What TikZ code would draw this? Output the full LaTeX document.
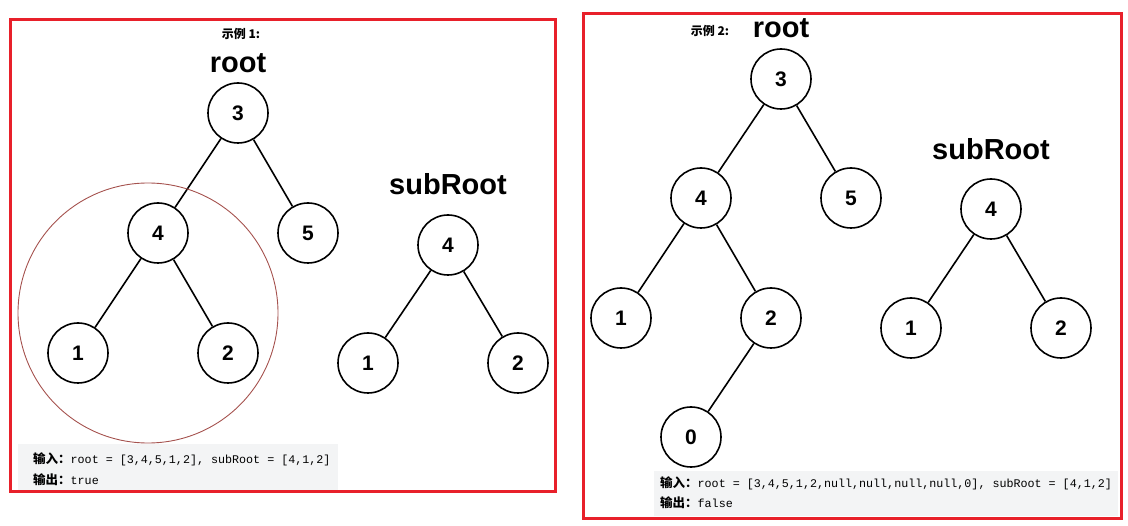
\documentclass[tikz,border=0pt]{standalone}
\usepackage{fontspec}
\setmainfont{Liberation Sans}
\setmonofont{Liberation Mono}
\newfontfamily\cjk{Noto Sans CJK SC}
\definecolor{framered}{HTML}{E8202A}
\definecolor{ringbrown}{HTML}{A5524E}
\definecolor{codegray}{HTML}{F3F4F5}
\tikzset{
  treenode/.style={circle, draw, line width=1.6pt, minimum size=60pt, inner sep=0pt,
    font=\bfseries\fontsize{21}{21}\selectfont},
  treeedge/.style={line width=1.6pt},
  treetitle/.style={font=\bfseries\fontsize{29}{29}\selectfont},
  casetitle/.style={font=\cjk\bfseries\fontsize{12}{12}\selectfont},
  codeline/.style={anchor=west, inner sep=0pt, font=\ttfamily\fontsize{11.7}{12}\selectfont},
  frame/.style={draw=framered, line width=3pt}
}
\newcommand{\cjkbold}[1]{{\cjk\bfseries\fontsize{12.5}{12.5}\selectfont #1}}
\begin{document}
\begin{tikzpicture}[x=1pt,y=-1pt]
  \useasboundingbox (0,0) rectangle (1128,526);
  % example 1
  \fill[codegray] (18,444) rectangle (338,490);
  \draw[frame] (10,20) rectangle (555,492);
  \node[casetitle] (case1) at (241,34) {示例 1:};
  \node[treetitle] (root1) at (238,63) {root};
  \node[treenode] (a3) at (238,113) {3};
  \node[treenode] (a4) at (158,233) {4};
  \node[treenode] (a5) at (308,233) {5};
  \node[treenode] (a1) at (78,353) {1};
  \node[treenode] (a2) at (228,353) {2};
  \node[treetitle] (sub1) at (448,184) {subRoot};
  \node[treenode] (s4) at (448,245) {4};
  \node[treenode] (s1) at (368,363) {1};
  \node[treenode] (s2) at (518,363) {2};
  \foreach \p/\c in {a3/a4, a3/a5, a4/a1, a4/a2, s4/s1, s4/s2}
    \draw[treeedge] (\p) -- (\c);
  \draw[ringbrown, line width=0.9pt] (148,313) circle (130);
  \node[codeline] (in1) at (33,459) {\cjkbold{输入：}root = [3,4,5,1,2], subRoot = [4,1,2]};
  \node[codeline] (out1) at (33,480) {\cjkbold{输出：}true};
  % example 2
  \fill[codegray] (654,471) rectangle (1118,516);
  \draw[frame] (583,14) rectangle (1121,519);
  \node[casetitle] (case2) at (710,31) {示例 2:};
  \node[treetitle] (root2) at (781,28) {root};
  \node[treenode] (b3) at (781,79) {3};
  \node[treenode] (b4) at (701,198) {4};
  \node[treenode] (b5) at (851,198) {5};
  \node[treenode] (b1) at (621,318) {1};
  \node[treenode] (b2) at (771,318) {2};
  \node[treenode] (b0) at (691,437) {0};
  \node[treetitle] (sub2) at (991,149) {subRoot};
  \node[treenode] (t4) at (991,209) {4};
  \node[treenode] (t1) at (911,328) {1};
  \node[treenode] (t2) at (1061,328) {2};
  \foreach \p/\c in {b3/b4, b3/b5, b4/b1, b4/b2, b2/b0, t4/t1, t4/t2}
    \draw[treeedge] (\p) -- (\c);
  \node[codeline] (in2) at (660,483) {\cjkbold{输入：}root = [3,4,5,1,2,null,null,null,null,0], subRoot = [4,1,2]};
  \node[codeline] (out2) at (660,503) {\cjkbold{输出：}false};
\end{tikzpicture}
\end{document}
